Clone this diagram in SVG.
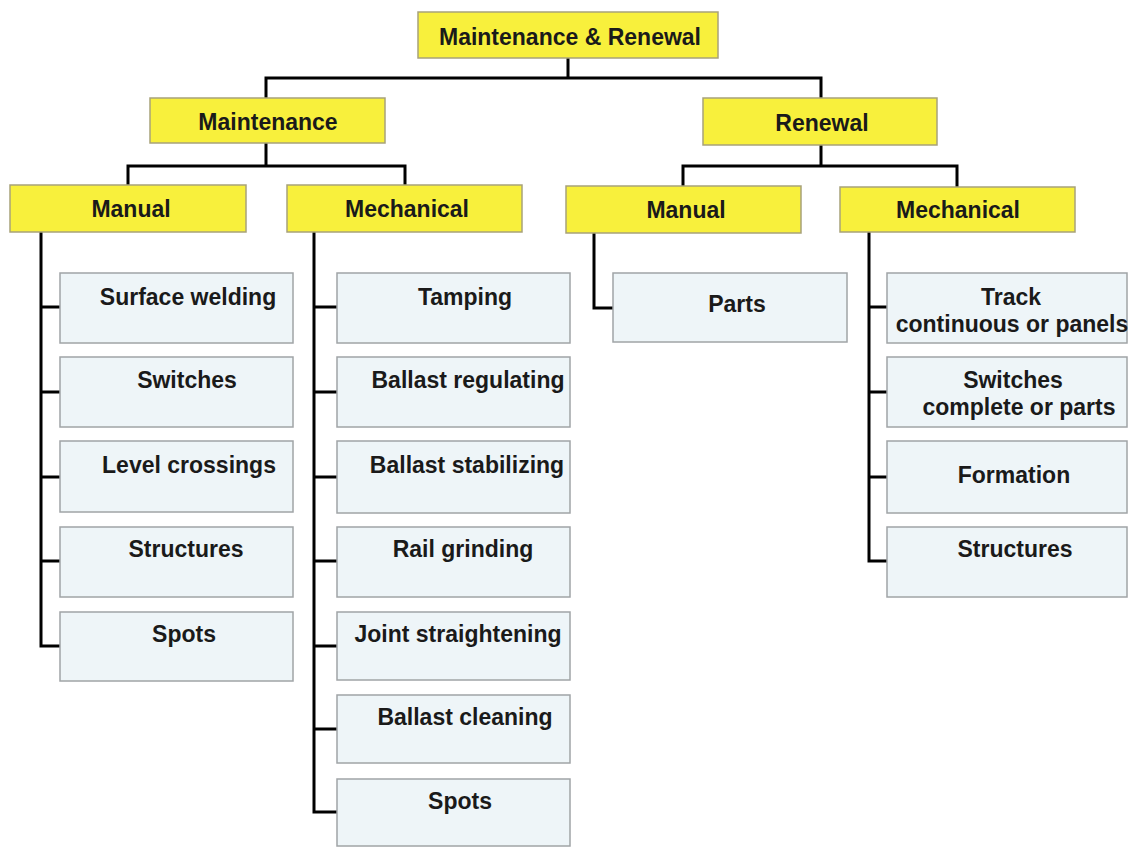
<svg xmlns="http://www.w3.org/2000/svg" width="1137" height="847" viewBox="0 0 1137 847">
<style>
.y{fill:#f8f03c;stroke:#a8a27a;stroke-width:1.5}
.b{fill:#eef5f8;stroke:#a0a4a6;stroke-width:1.5}
text{font-family:"Liberation Sans",Arial,sans-serif;font-weight:bold;font-size:23px;fill:#1a1a1a;text-anchor:middle}
.c{fill:none;stroke:#000;stroke-width:3}
</style>
<rect width="1137" height="847" fill="#ffffff"/>
<g id="connectors" class="c">
<path d="M568 58V78M266 98V78H821V98"/>
<path d="M266 143V166M128 185V166H405V185"/>
<path d="M821 145V166M683 186V166H957V187"/>
<path d="M41 232V646H60M41 307H60M41 392H60M41 477H60M41 561H60"/>
<path d="M314 232V812H337M314 307H337M314 392H337M314 477H337M314 561H337M314 646H337M314 729H337"/>
<path d="M594 233V308H613"/>
<path d="M869 232V561H887M869 307H887M869 392H887M869 477H887"/>
</g>
<g id="n-root"><rect class="y" x="418" y="12" width="300" height="46"/><text x="570" y="45">Maintenance &amp; Renewal</text></g>
<g id="n-maintenance"><rect class="y" x="150" y="98" width="235" height="45"/><text x="268" y="130">Maintenance</text></g>
<g id="n-renewal"><rect class="y" x="703" y="98" width="234" height="47"/><text x="822" y="131">Renewal</text></g>
<g id="n-m-manual"><rect class="y" x="10" y="185" width="236" height="47"/><text x="131" y="217">Manual</text></g>
<g id="n-m-mechanical"><rect class="y" x="287" y="185" width="235" height="47"/><text x="407" y="217">Mechanical</text></g>
<g id="n-r-manual"><rect class="y" x="566" y="186" width="235" height="47"/><text x="686" y="218">Manual</text></g>
<g id="n-r-mechanical"><rect class="y" x="840" y="187" width="235" height="45"/><text x="958" y="218">Mechanical</text></g>

<g id="n-surface-welding"><rect class="b" x="60" y="273" width="233" height="70"/><text x="188" y="305">Surface welding</text></g>
<g id="n-switches"><rect class="b" x="60" y="357" width="233" height="70"/><text x="187" y="388">Switches</text></g>
<g id="n-level-crossings"><rect class="b" x="60" y="441" width="233" height="71"/><text x="189" y="473">Level crossings</text></g>
<g id="n-structures"><rect class="b" x="60" y="527" width="233" height="70"/><text x="186" y="557">Structures</text></g>
<g id="n-spots-1"><rect class="b" x="60" y="612" width="233" height="69"/><text x="184" y="642">Spots</text></g>

<g id="n-tamping"><rect class="b" x="337" y="273" width="233" height="70"/><text x="465" y="305">Tamping</text></g>
<g id="n-ballast-regulating"><rect class="b" x="337" y="357" width="233" height="70"/><text x="468" y="388">Ballast regulating</text></g>
<g id="n-ballast-stabilizing"><rect class="b" x="337" y="441" width="233" height="72"/><text x="467" y="473">Ballast stabilizing</text></g>
<g id="n-rail-grinding"><rect class="b" x="337" y="527" width="233" height="70"/><text x="463" y="557">Rail grinding</text></g>
<g id="n-joint-straightening"><rect class="b" x="337" y="612" width="233" height="68"/><text x="458" y="642">Joint straightening</text></g>
<g id="n-ballast-cleaning"><rect class="b" x="337" y="695" width="233" height="68"/><text x="465" y="725">Ballast cleaning</text></g>
<g id="n-spots-2"><rect class="b" x="337" y="779" width="233" height="67"/><text x="460" y="809">Spots</text></g>

<g id="n-parts"><rect class="b" x="613" y="273" width="234" height="69"/><text x="737" y="312">Parts</text></g>

<g id="n-track"><rect class="b" x="887" y="273" width="240" height="70"/><text x="1011" y="305">Track</text><text x="1012" y="332">continuous or panels</text></g>
<g id="n-switches-r"><rect class="b" x="887" y="357" width="240" height="70"/><text x="1013" y="388">Switches</text><text x="1019" y="415">complete or parts</text></g>
<g id="n-formation"><rect class="b" x="887" y="441" width="240" height="72"/><text x="1014" y="483">Formation</text></g>
<g id="n-structures-r"><rect class="b" x="887" y="527" width="240" height="70"/><text x="1015" y="557">Structures</text></g>
</svg>
